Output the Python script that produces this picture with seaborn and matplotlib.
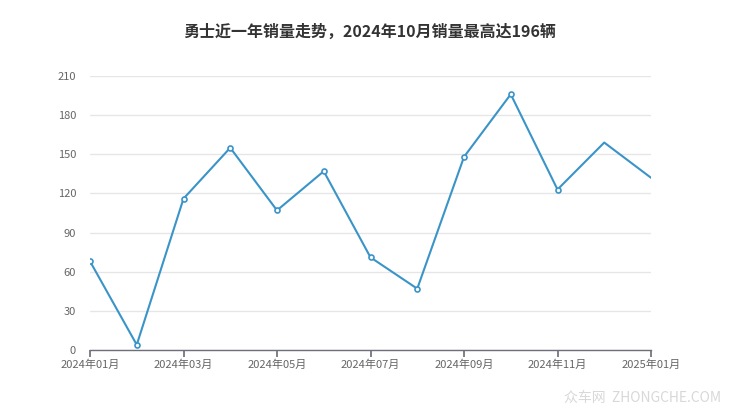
import matplotlib
matplotlib.use("Agg")
import matplotlib.pyplot as plt
import seaborn as sns
import pandas as pd
import numpy as np

months = ["2024年01月", "2024年02月", "2024年03月", "2024年04月", "2024年05月", "2024年06月",
          "2024年07月", "2024年08月", "2024年09月", "2024年10月", "2024年11月", "2024年12月",
          "2025年01月"]
sales = [68, 4, 116, 155, 107, 137, 71, 47, 148, 196, 123, 159, 132]
shown_marker = [True] * 11 + [False, False]
yticks = [0, 30, 60, 90, 120, 150, 180, 210]
title = "勇士近一年销量走势，2024年10月销量最高达196辆"

sns.set_theme(style="white")
plt.rcParams['font.family'] = ['Noto Sans CJK SC', 'DejaVu Sans']

df = pd.DataFrame({"idx": np.arange(len(months)), "month": months, "sales": sales,
                   "mk": shown_marker})

color = "#3a94c8"
fig = plt.figure(figsize=(7.4, 4.17), dpi=100)
ax = fig.add_axes([90/740, 1-350/417, (651-90)/740, (350-76)/417])

sns.lineplot(data=df, x="idx", y="sales", ax=ax, color=color, linewidth=1.5)
sub = df[df["mk"]]
ax.scatter(sub["idx"], sub["sales"], s=13, facecolor="white", edgecolor=color,
           linewidth=1.2, zorder=5)

ax.set_xlim(0, len(months) - 1)
ax.set_ylim(0, 210)
ax.set_yticks(yticks)
ax.set_yticklabels([str(v) for v in yticks])
ax.set_xticks(df["idx"][::2])
ax.set_xticklabels(df["month"][::2])
ax.set_xlabel("")
ax.set_ylabel("")
ax.grid(axis="y", color="#e6e6e6", linewidth=1)
ax.set_axisbelow(True)
for s in ["top", "right", "left"]:
    ax.spines[s].set_visible(False)
ax.spines["bottom"].set_color("#6e7079")
ax.spines["bottom"].set_linewidth(1)
ax.tick_params(axis="x", length=5, color="#6e7079", labelsize=8, labelcolor="#666666", pad=2, bottom=True)
ax.tick_params(axis="y", length=0, labelsize=8, labelcolor="#666666", pad=10)

fig.text(370/740, 1-32/417, title, ha="center", va="center", fontsize=11.5,
         fontweight="bold", color="#333333")
fig.text(0.975, 1-398/417, "众车网  ZHONGCHE.COM", ha="right", va="center",
         fontsize=10, color="#d8d8d8")

fig.savefig("out.png", dpi=100)
